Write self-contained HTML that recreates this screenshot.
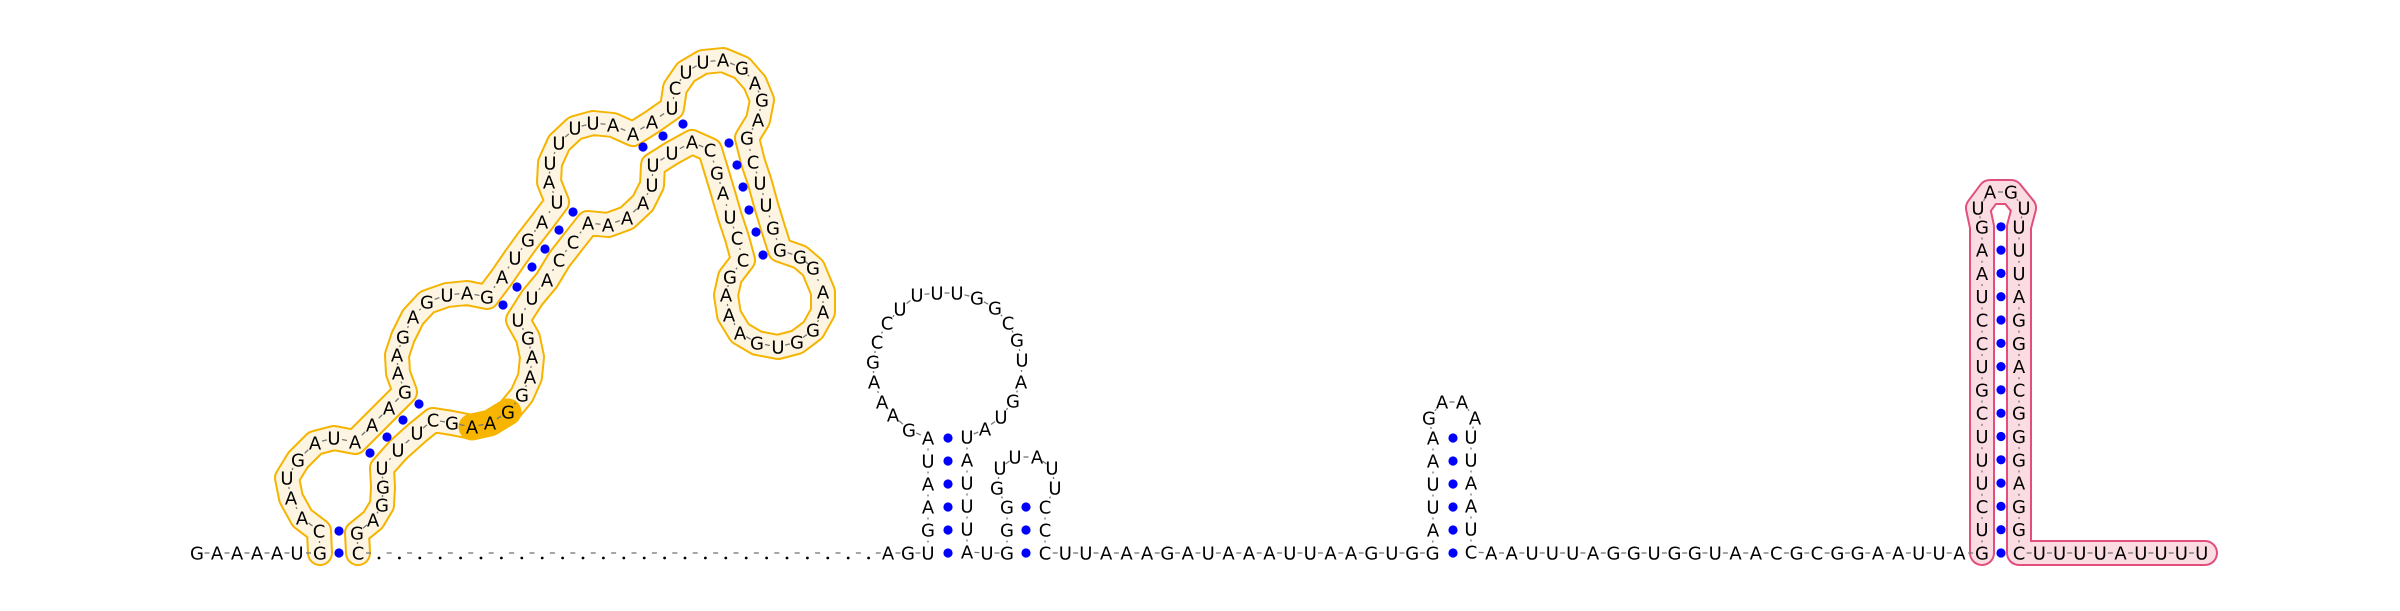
<!DOCTYPE html>
<html><head><meta charset="utf-8"><title>RNA secondary structure</title>
<style>
html,body{margin:0;padding:0;background:#fff;}
svg{display:block;}
text{font-family:"DejaVu Sans","Liberation Sans",sans-serif;font-size:18px;fill:#000;}
</style></head>
<body>
<svg id="chart" width="2400" height="611" viewBox="0 0 2400 611" xmlns="http://www.w3.org/2000/svg">
<g id="bands"></g>
<g id="dashes"></g>
<g id="pairs"></g>
<g id="letters"></g>
</svg>
<script>
const Y0 = 553;
const leftDomain = [
["G",320,553],["C",319,531],["A",302,518],["A",291,498],["U",287,478],["G",298,460],["A",315,443],["U",334,438],["A",355,442],
["A",372,425],["A",389,408],["G",405,392],["A",398,373],["A",397,355],["G",403,337],["A",413,317],["G",427,302],["U",447,295],["A",467,293],["G",487,297],
["A",502,277],["U",515,258],["G",528,240],["A",542,222],["U",557,202],["A",549,182],["U",550,163],["U",559,143],["U",575,128],["U",593,123],["A",613,125],["A",633,134],
["A",652,122],["U",672,108],["C",675,88],["U",686,72],["U",703,62],["A",723,60],["G",742,68],["A",755,83],["G",762,100],["A",758,120],
["G",747,138],["C",753,162],["U",760,183],["U",766,205],["G",773,228],["G",780,250],["G",800,257],["G",813,268],["A",823,292],["A",823,312],["G",813,330],["G",797,342],
["U",778,347],["G",757,343],["A",740,333],["A",729,315],["A",726,295],["G",730,277],["C",743,260],["C",737,238],["U",730,217],["A",723,193],["G",717,173],["C",710,150],
["A",692,142],["U",672,153],["U",653,165],["U",652,185],["A",643,203],["A",627,218],["A",608,225],["A",588,223],["C",573,242],["C",559,260],["A",547,280],["U",532,298],["U",518,320],
["G",528,338],["A",532,357],["A",530,377],["G",522,395],["G",508,412],["A",490,423],["A",472,427],["G",452,423],["C",433,420],["U",417,433],["U",398,450],["U",382,468],
["G",383,487],["G",382,505],["A",373,520],["G",357,533],["C",358,553]];
const leftDots = [[339,531],[339,553],[370,453],[387,437],[403,420],[419,404],[503,305],[517,287],[532,267],[545,249],[559,230],[573,212],[643,147],[663,136],[683,124],[729,143],[737,165],[743,187],[749,210],[756,232],[763,255]];
const highlightIdx = [83,84,85];
const loop1 = [["G",909,430],["A",893,415],["A",882,402],["A",874,382],["G",873,362],["C",877,342],["C",887,323],["U",900,309],["U",917,295],["U",937,293],["U",957,293],["G",977,298],["G",995,308],["C",1008,323],["G",1017,340],["U",1022,360],["A",1021,382],["G",1013,401],["U",1001,417],["A",985,429]];
const loop2 = [["G",997,488],["U",1000,468],["U",1015,457],["A",1037,457],["U",1052,468],["U",1055,488]];
const loop3 = [["G",1429,418],["A",1442,402],["A",1462,402],["A",1475,418]];
const loop4 = [["U",1978,208],["A",1990,192],["G",2011,192],["U",2024,208]];

const nodes = [];
function addRun(str, x0, step, y){ for(let i=0;i<str.length;i++) nodes.push([str[i], x0+i*step, y]); }
function addCol(str, x, y0, step){ for(let i=0;i<str.length;i++) nodes.push([str[i], x, y0+i*step]); }
function addList(l){ l.forEach(n=>nodes.push(n)); }

addRun("GAAAAU",197,20,Y0);
const leftStart = nodes.length; addList(leftDomain); const leftEnd = nodes.length-1;
addRun(".........................",379,20.4,Y0);
addRun("AGU",888,20,Y0);
addCol("GAAUA",928,530,-23);
addList(loop1);
addCol("UAUUUA",967,437,23);
addRun("UG",987,20,Y0);
addCol("GG",1007,530,-23);
addList(loop2);
addCol("CCC",1045,507,23);
addRun("UUAAAGAUAAAUUAAGUGG",1065.4,20.4,Y0);
addCol("AUUAA",1433,530,-23);
addList(loop3);
addCol("UUAAUC",1471,437,23);
addRun("AAUUUAGGUGGUAACGCGGAAUUA",1491.35,20.35,Y0);
const pinkStart = nodes.length;
addCol("GUCUUUCGUCCUAAG",1982,553,-23.3);
addList(loop4);
addCol("UUUAGGACGGGAGGC",2019,226.8,23.3);
addRun("UUUUAUUUU",2039.3,20.3,Y0);
const pinkEnd = nodes.length-1;

const NS="http://www.w3.org/2000/svg";
function mk(tag, attrs, parent){ const e=document.createElementNS(NS,tag); for(const k in attrs) e.setAttribute(k,attrs[k]); parent.appendChild(e); return e; }
const bands=document.getElementById('bands'), dashes=document.getElementById('dashes'), pairsG=document.getElementById('pairs'), letters=document.getElementById('letters');

function bandPath(pts, extra){
  let d = pts.map((p,i)=>(i?'L':'M')+p[1]+' '+p[2]).join(' ');
  return d + (extra||'');
}
const lp = nodes.slice(leftStart,leftEnd+1);
const lpath = bandPath(lp);
let e = mk('path',{d:lpath,fill:'none',stroke:'#f5b400','stroke-width':26,'stroke-linejoin':'round','stroke-linecap':'round'},bands);


e = mk('path',{d:lpath,fill:'none',stroke:'#fdf5e1','stroke-width':22,'stroke-linejoin':'round','stroke-linecap':'round'},bands);


const hp = highlightIdx.map(i=>leftDomain[i]);
e = mk('path',{d:bandPath(hp),fill:'none',stroke:'#f7b500','stroke-width':27,'stroke-linejoin':'round','stroke-linecap':'round'},bands);


const pp = nodes.slice(pinkStart,pinkEnd+1);
const ppath = bandPath(pp,' L2205 553');
e = mk('path',{d:ppath,fill:'none',stroke:'#e24f7c','stroke-width':26,'stroke-linejoin':'round','stroke-linecap':'round'},bands);


e = mk('path',{d:ppath,fill:'none',stroke:'#fbdce3','stroke-width':22,'stroke-linejoin':'round','stroke-linecap':'round'},bands);



for(let i=1;i<nodes.length;i++){
  const a=nodes[i-1], b=nodes[i];
  const dx=b[1]-a[1], dy=b[2]-a[2], L=Math.hypot(dx,dy);
  if(L>32) continue;
  const mx=(a[1]+b[1])/2, my=(a[2]+b[2])/2, ux=dx/L, uy=dy/L;
  const h = (Math.abs(dy)>Math.abs(dx)) ? 1 : 2.5;
  const ln = mk('line',{x1:mx-ux*h,y1:my-uy*h,x2:mx+ux*h,y2:my+uy*h,stroke:'#777','stroke-width':1.3},dashes);
  
  
}
const dots = leftDots.slice();
for(let k=0;k<6;k++) dots.push([948,553-23*k]);
for(let k=0;k<3;k++) dots.push([1026,553-23*k]);
for(let k=0;k<6;k++) dots.push([1453,553-23*k]);
for(let k=0;k<15;k++) dots.push([2001,553-23.3*k]);
dots.forEach(p=>{
  const c = mk('circle',{cx:p[0],cy:p[1],r:4.6,fill:'#0000ff'},pairsG);
  
  
});
nodes.forEach(n=>{
  if(n[0]==='.'){
    const c = mk('circle',{cx:n[1],cy:n[2]+5,r:1.4,fill:'#000'},letters);
    
    
    return;
  }
  const t = mk('text',{x:n[1],y:n[2]+6.5,'text-anchor':'middle'},letters);
  t.textContent=n[0];
  
  
});
</script>
</body></html>
